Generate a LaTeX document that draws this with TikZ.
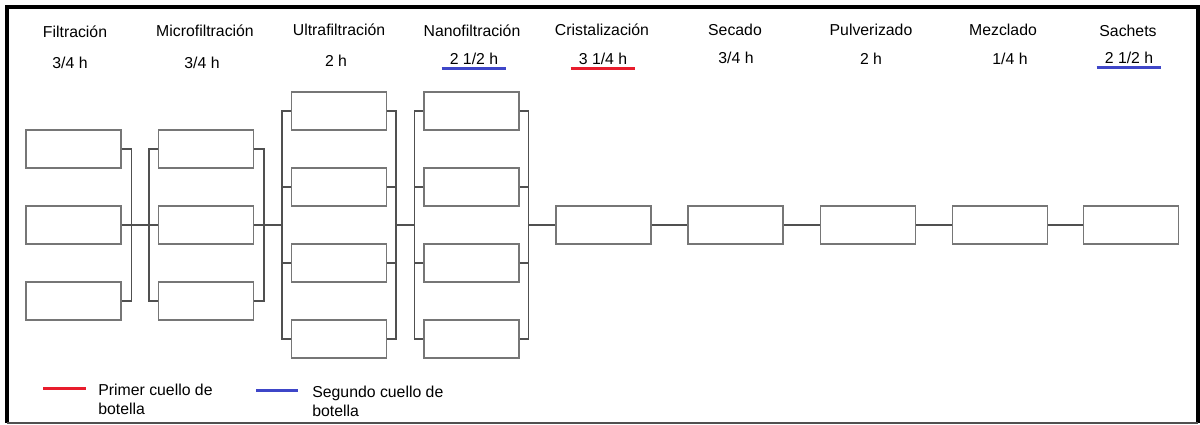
\documentclass[tikz,border=0pt]{standalone}
\usepackage{fontspec}
\setmainfont{Liberation Sans}
\definecolor{boxgray}{RGB}{118,118,118}
\definecolor{linkgray}{RGB}{80,80,80}
\definecolor{neckred}{RGB}{232,28,44}
\definecolor{neckblue}{RGB}{62,70,200}

\begin{document}
\begin{tikzpicture}[x=0.02cm, y=-0.02cm]

\tikzset{%
every stage/.style={
draw=boxgray,
line width=0.6pt,
minimum width=1.9cm,
minimum height=0.76cm,
inner sep=0pt
},
link/.style={
draw=linkgray,
line width=0.6pt
},
stage label/.style={
anchor=base,
font=\fontsize{9}{11}\selectfont,
inner xsep=4.5pt,
inner ysep=2.2pt
},
first neck/.style={
draw=neckred,
line width=1.7pt
},
second neck/.style={
draw=neckblue,
line width=1.7pt
},
}

\useasboundingbox (0,0) rectangle (1200,424);

% Frame around the chart
\draw[line width=2.3pt] (1198,423) -- (1198,7) -- (7,7) -- (7,423);
\draw[linkgray, line width=0.6pt] (7,423) -- (1198,423);

% Stage names and times
\foreach \n/\t/\tx/\ty/\h/\hx/\hy in {filt/Filtración/75/37/{3/4 h}/70/68,
  micro/Microfiltración/205/36/{3/4 h}/202/68,
  ultra/Ultrafiltración/339/35/{2 h}/336/66,
  nano/Nanofiltración/472/36/{2 1/2 h}/474/64,
  crist/Cristalización/602/35/{3 1/4 h}/603/64,
  secado/Secado/735/35/{3/4 h}/736/63,
  pulv/Pulverizado/871/35/{2 h}/871/64,
  mezcl/Mezclado/1003/35/{1/4 h}/1010/64,
  sachets/Sachets/1128/36/{2 1/2 h}/1129/63}
{
\node [stage label] (t-\n) at (\tx,\ty) {\t};
\node [stage label] (h-\n) at (\hx,\hy) {\h};
}

% Bottleneck marks
\draw [first neck] (h-crist.south west) -- (h-crist.south east);
\draw [second neck] (h-nano.south west) -- (h-nano.south east);
\draw [second neck] (h-sachets.south west) -- (h-sachets.south east);

% Filtration and microfiltration units
\foreach \y [count=\i] in {149,225,301}
\node [every stage/.try] (filt-\i) at (73.5,\y) {};
\foreach \y [count=\i] in {149,225,301}
\node [every stage/.try] (micro-\i) at (206,\y) {};

% Ultrafiltration and nanofiltration units
\foreach \y [count=\i] in {111,187,263,339}
\node [every stage/.try] (ultra-\i) at (339,\y) {};
\foreach \y [count=\i] in {111,187,263,339}
\node [every stage/.try] (nano-\i) at (471.5,\y) {};

% Single units in series
\foreach \n/\x in {crist/603.5, secado/735.5, pulv/868, mezcl/1000, sachets/1131}
\node [every stage/.try] (\n) at (\x,225) {};

% Brackets joining parallel units
\draw [link] (filt-1.east) -- ++(10,0) |- (filt-3.east);
\draw [link] (micro-1.west) -- ++(-9,0) coordinate (micro-in) |- (micro-3.west);
\draw [link] (micro-1.east) -- ++(10,0) |- (micro-3.east);
\draw [link] (ultra-1.west) -- ++(-9,0) coordinate (ultra-in) |- (ultra-4.west);
\draw [link] (ultra-1.east) -- ++(9,0) coordinate (ultra-out) |- (ultra-4.east);
\draw [link] (nano-1.west) -- ++(-9,0) coordinate (nano-in) |- (nano-4.west);
\draw [link] (nano-1.east) -- ++(9,0) coordinate (nano-out) |- (nano-4.east);
\foreach \i in {2,3} {
\draw [link] (ultra-\i.west) -- ++(-9,0);
\draw [link] (ultra-\i.east) -- ++(9,0);
\draw [link] (nano-\i.west) -- ++(-9,0);
\draw [link] (nano-\i.east) -- ++(9,0);
}

% Links between stages
\draw [link] (filt-2.east) -- (micro-2.west);
\draw [link] (micro-2.east) -- (micro-2.east -| ultra-in);
\draw [link] (ultra-out |- filt-2) -- (nano-in |- filt-2);
\draw [link] (nano-out |- crist.west) -- (crist.west);
\draw [link] (crist) -- (secado) -- (pulv) -- (mezcl) -- (sachets);

% Legend
\coordinate (key-first) at (43,388);
\coordinate (key-second) at (256,390);
\draw [first neck] (key-first) -- ++(43,0);
\draw [second neck] (key-second) -- ++(42,0);
\node [align=left, anchor=west, font=\fontsize{9}{11}\selectfont, inner sep=0pt] (leg-first) at (98,399) {Primer cuello de\\botella};
\node [align=left, anchor=west, font=\fontsize{9}{11}\selectfont, inner sep=0pt] (leg-second) at (312,401) {Segundo cuello de\\botella};

\end{tikzpicture}
\end{document}
